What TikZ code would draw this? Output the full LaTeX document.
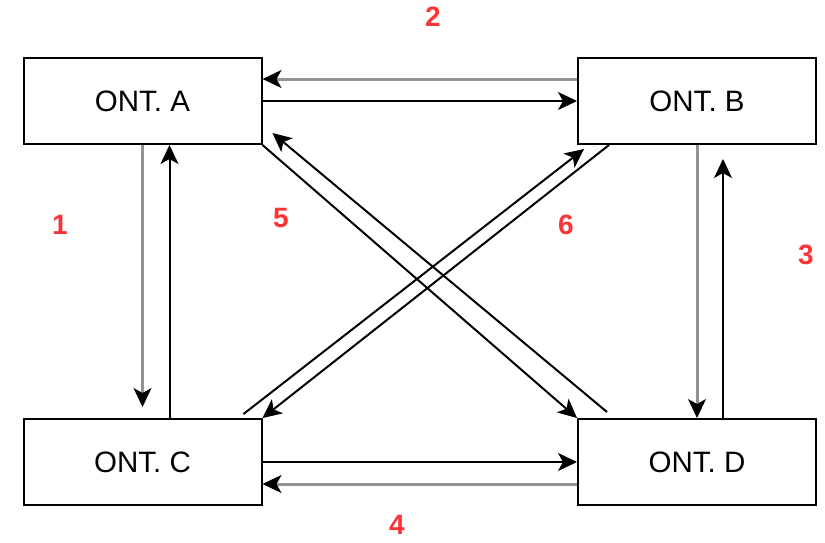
\documentclass[tikz,border=0pt]{standalone}
\usepackage{fontspec}
\setmainfont{Liberation Sans}
\usetikzlibrary{arrows.meta}
\definecolor{ontred}{RGB}{255,51,51}

\begin{document}
\begin{tikzpicture}[x=1pt,y=-1pt,
  ontip/.tip={Stealth[length=19pt,width=18pt,inset=5pt,line width=1pt,color=black]},
  ont/.style={draw,line width=2pt,minimum width=238pt,minimum height=86pt,inner sep=0pt,font=\fontsize{29.5}{34}\selectfont},
  num/.style={text=ontred,font=\fontsize{28}{32}\selectfont\bfseries},
  blk/.style={line width=2pt,-ontip},
  gry/.style={line width=3pt,draw=gray!85,-ontip}]
  \useasboundingbox (0,0) rectangle (825,542);
  \node[ont] (A) at (142.5,101) {ONT. A};
  \node[ont] (B) at (697,101) {ONT. B};
  \node[ont] (C) at (142.5,462) {ONT. C};
  \node[ont] (D) at (697,462) {ONT. D};
  \node[num] (n1) at (60,225) {1};
  \node[num] (n2) at (433,17) {2};
  \node[num] (n3) at (806,255) {3};
  \node[num] (n4) at (397,525) {4};
  \node[num] (n5) at (281,218) {5};
  \node[num] (n6) at (566,225) {6};
  % A and B
  \draw[gry] ([yshift=22pt]B.west) -- ([yshift=22pt]A.east);
  \draw[blk] (A.east) -- (B.west);
  % A and C
  \draw[gry] (A.south) -- ([yshift=11pt]C.north);
  \draw[blk] ([xshift=27pt]C.north) -- ([xshift=27pt]A.south);
  % B and D
  \draw[gry] (B.south) -- (D.north);
  \draw[blk] ([xshift=26pt]D.north) -- ([xshift=26pt,yshift=-14pt]B.south);
  % C and D
  \draw[blk] (C.east) -- (D.west);
  \draw[gry] ([yshift=-22pt]D.west) -- ([yshift=-22pt]C.east);
  % crossing
  \draw[blk] (A.south east) -- (D.north west);
  \draw[blk] ([xshift=30pt,yshift=6pt]D.north west) -- ([xshift=10pt,yshift=12pt]A.south east);
  \draw[blk] ([xshift=-19pt,yshift=4pt]C.north east) -- ([xshift=7pt,yshift=-4pt]B.south west);
  \draw[blk] ([xshift=32pt]B.south west) -- (C.north east);
\end{tikzpicture}
\end{document}
